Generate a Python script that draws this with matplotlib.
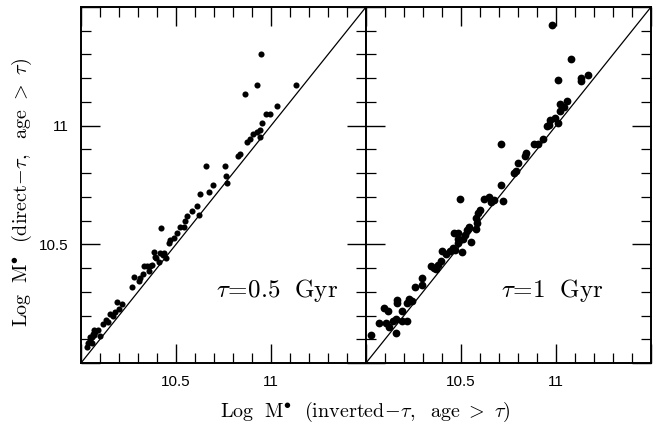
#stellar mass comparison: direct-tau vs inverted-tau fits, two tau values
import numpy as np
import matplotlib
matplotlib.use("Agg")
import matplotlib.pyplot as plt
from matplotlib.ticker import MultipleLocator

plt.rcParams['mathtext.fontset'] = 'cm'
plt.rcParams['font.family'] = 'Liberation Sans'

XMIN, XMAX = 10.0, 11.5

# tau = 0.5 Gyr panel
inv_05 = [10.030, 10.038, 10.047, 10.056, 10.062, 10.068, 10.069, 10.056, 10.100,
          10.118, 10.134, 10.140, 10.152, 10.170, 10.178, 10.191, 10.199, 10.218,
          10.269, 10.277, 10.306, 10.312, 10.326, 10.329, 10.346, 10.364, 10.358,
          10.384, 10.395, 10.412, 10.416, 10.433, 10.447, 10.372, 10.390, 10.419,
          10.436, 10.462, 10.471, 10.488, 10.505, 10.523, 10.540, 10.549, 10.557,
          10.583, 10.609, 10.622, 10.627, 10.656, 10.675, 10.696, 10.757, 10.765,
          10.767, 10.826, 10.835, 10.874, 10.891, 10.904, 10.925, 10.943, 10.944,
          10.952, 10.973, 10.994, 11.034, 10.865, 10.925, 10.945, 11.132,
          10.045, 10.075, 10.090]
dir_05 = [10.069, 10.083, 10.097, 10.110, 10.122, 10.139, 10.118, 10.083, 10.115,
          10.164, 10.181, 10.173, 10.206, 10.198, 10.216, 10.256, 10.226, 10.249,
          10.319, 10.361, 10.347, 10.359, 10.375, 10.409, 10.409, 10.409, 10.389,
          10.469, 10.441, 10.427, 10.462, 10.455, 10.441, 10.413, 10.448, 10.570,
          10.462, 10.504, 10.518, 10.525, 10.547, 10.574, 10.572, 10.600, 10.619,
          10.641, 10.662, 10.624, 10.711, 10.831, 10.721, 10.750, 10.831, 10.789,
          10.760, 10.872, 10.881, 10.931, 10.942, 10.963, 10.973, 10.981, 10.952,
          11.011, 11.051, 11.051, 11.082, 11.132, 11.172, 11.302, 11.172,
          10.108, 10.130, 10.140]

# tau = 1 Gyr panel
inv_1 = [10.026, 10.069, 10.095, 10.117, 10.107, 10.119, 10.141, 10.156, 10.157,
         10.164, 10.161, 10.188, 10.189, 10.216, 10.218, 10.228, 10.244, 10.256,
         10.293, 10.295, 10.342, 10.356, 10.368, 10.379, 10.396, 10.402, 10.423,
         10.440, 10.456, 10.466, 10.504, 10.483, 10.461, 10.482, 10.482, 10.496,
         10.508, 10.522, 10.530, 10.544, 10.553, 10.579, 10.583, 10.578, 10.591,
         10.598, 10.622, 10.648, 10.660, 10.672, 10.720, 10.712, 10.777, 10.790,
         10.802, 10.838, 10.842, 10.884, 10.904, 10.712, 10.929, 10.951, 10.961,
         10.970, 10.997, 11.010, 11.019, 11.040, 11.021, 11.058, 11.010, 11.130,
         11.130, 11.168, 11.078, 10.979]
dir_1 = [10.118, 10.169, 10.231, 10.220, 10.167, 10.150, 10.177, 10.128, 10.185,
         10.265, 10.252, 10.219, 10.179, 10.178, 10.253, 10.268, 10.261, 10.319,
         10.329, 10.357, 10.409, 10.399, 10.395, 10.413, 10.430, 10.470, 10.459,
         10.470, 10.485, 10.476, 10.468, 10.507, 10.549, 10.549, 10.521, 10.690,
         10.521, 10.539, 10.560, 10.574, 10.511, 10.563, 10.591, 10.613, 10.632,
         10.643, 10.693, 10.700, 10.678, 10.687, 10.681, 10.750, 10.799, 10.809,
         10.842, 10.874, 10.884, 10.922, 10.922, 10.922, 10.943, 10.999, 11.002,
         11.023, 11.031, 11.011, 11.063, 11.078, 11.092, 11.102, 11.193, 11.201,
         11.190, 11.212, 11.281, 11.424]

LABELS = [r'$\tau\!=\!0.5\ \ \mathrm{Gyr}$', r'$\tau\!=\!1\ \ \mathrm{Gyr}$']


def tickfmt(v, pos):
    if abs(v - 10.5) < 1e-6:
        return '10.5'
    if abs(v - 11.0) < 1e-6:
        return '11'
    return ''


def setup(ax):
    ax.set_xlim(XMIN, XMAX)
    ax.set_ylim(XMIN, XMAX)
    ax.plot([XMIN, XMAX], [XMIN, XMAX], color='k', lw=0.9)
    ax.xaxis.set_major_locator(MultipleLocator(0.5))
    ax.xaxis.set_minor_locator(MultipleLocator(0.1))
    ax.yaxis.set_major_locator(MultipleLocator(0.5))
    ax.yaxis.set_minor_locator(MultipleLocator(0.1))
    ax.tick_params(which='both', direction='in', top=True, right=True, labelsize=11)
    ax.tick_params(which='major', length=14, width=1.0, pad=9)
    ax.tick_params(which='minor', length=7, width=0.9)
    for s in ax.spines.values():
        s.set_linewidth(1.4)
    ax.xaxis.set_major_formatter(plt.FuncFormatter(tickfmt))
    ax.yaxis.set_major_formatter(plt.FuncFormatter(tickfmt))


fig = plt.figure(figsize=(6.54, 4.29), dpi=100)
w = 285 / 654
b = (429 - 363) / 429
h = 356 / 429
ax1 = fig.add_axes([81 / 654, b, w, h])
ax2 = fig.add_axes([366 / 654, b, w, h])

for ax, xs, ys, lab, ms in [(ax1, inv_05, dir_05, LABELS[0], 4.4),
                            (ax2, inv_1, dir_1, LABELS[1], 5.6)]:
    setup(ax)
    ax.plot(xs, ys, 'o', color='k', ms=ms, mec='none')
    ax.text(0.475, 0.205, lab, transform=ax.transAxes, ha='left', va='center',
            fontsize=18)

ax2.tick_params(which='both', labelleft=False)

fig.text(365 / 654, 1 - 412 / 429,
         r'$\mathrm{Log\ \ M^{\bullet}\ \ (inverted}\!-\!\tau\mathrm{,\ \ age\ >\ }\tau\mathrm{)}$',
         ha='center', va='center', fontsize=14.5)
fig.text(22 / 654, 1 - 193 / 429,
         r'$\mathrm{Log\ \ M^{\bullet}\ \ (direct}\!-\!\tau\mathrm{,\ \ age\ >\ }\tau\mathrm{)}$',
         ha='center', va='center', rotation=90, fontsize=14.5)

fig.savefig('out.png', dpi=100)
